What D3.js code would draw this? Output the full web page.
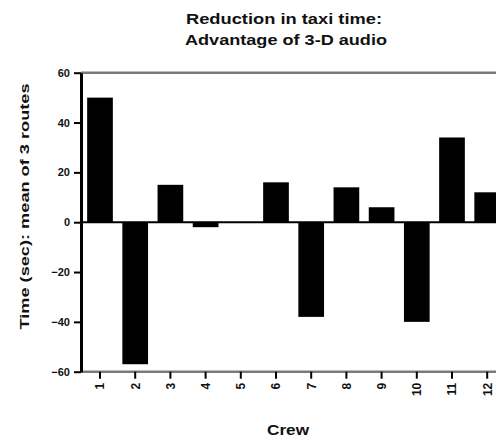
<!DOCTYPE html>
<html>
<head>
<meta charset="utf-8">
<script src="https://cdn.jsdelivr.net/npm/d3@7"></script>
<style>
  html, body { margin: 0; padding: 0; background: #fff; }
  svg { display: block; }
  text { font-family: "Liberation Sans", Arial, sans-serif; font-weight: bold; fill: #111; }
</style>
</head>
<body>
<div id="chart"></div>
<script>
const crews = ["1","2","3","4","5","6","7","8","9","10","11","12"];
const values = [50, -57, 15, -2, 0, 16, -38, 14, 6, -40, 34, 12];
const yTicks = [60, 40, 20, 0, -20, -40, -60];
const titleLines = ["Reduction in taxi time:", "Advantage of 3-D audio"];
const yTitle = "Time (sec): mean of 3 routes";
const xTitle = "Crew";

const W = 496, H = 437;
const svg = d3.select("#chart").append("svg").attr("width", W).attr("height", H);

const x = d3.scaleBand().domain(crews).range([82.4, 504.8]).paddingInner(0.27).paddingOuter(0.135);
const y = d3.scaleLinear().domain([-60, 60]).range([371.7, 72.7]);

// top frame line and bottom axis line (grey)
svg.append("line").attr("x1", 81).attr("x2", W).attr("y1", y(60)).attr("y2", y(60))
  .attr("stroke", "#7a7a7a").attr("stroke-width", 2.5);

// bars
svg.append("g").selectAll("rect").data(values).join("rect")
  .attr("x", (d, i) => x(crews[i]))
  .attr("width", x.bandwidth())
  .attr("y", d => y(Math.max(0, d)))
  .attr("height", d => Math.abs(y(d) - y(0)))
  .attr("fill", "#000");

// zero line
svg.append("line").attr("x1", 81).attr("x2", W).attr("y1", y(0)).attr("y2", y(0))
  .attr("stroke", "#000").attr("stroke-width", 2);

// bottom axis
const xAxis = svg.append("g").attr("transform", `translate(0,${y(-60)})`)
  .call(d3.axisBottom(x).tickSize(7).tickSizeOuter(0).tickPadding(4));
xAxis.select(".domain").attr("stroke", "#7a7a7a").attr("stroke-width", 2.5)
  .attr("d", `M81,0H${W}`);
xAxis.selectAll(".tick line").attr("stroke", "#000").attr("stroke-width", 2);
xAxis.selectAll(".tick text")
  .attr("transform", "rotate(-90)")
  .attr("x", -11).attr("y", 0).attr("dy", "0.36em")
  .attr("text-anchor", "end")
  .style("font-size", "12px").style("font-family", "'Liberation Sans', Arial, sans-serif")
  .style("font-weight", "bold").attr("fill", "#111");

// left axis
const yAxis = svg.append("g").attr("transform", "translate(81,0)")
  .call(d3.axisLeft(y).tickValues(yTicks).tickSize(7).tickSizeOuter(0).tickPadding(4));
yAxis.select(".domain").attr("stroke", "#000").attr("stroke-width", 3);
yAxis.selectAll(".tick line").attr("stroke", "#000").attr("stroke-width", 2);
yAxis.selectAll(".tick text")
  .style("font-size", "11px").style("font-family", "'Liberation Sans', Arial, sans-serif")
  .style("font-weight", "bold").attr("fill", "#111");

// title
svg.append("text").attr("x", 284).attr("y", 24).attr("text-anchor", "middle")
  .style("font-size", "14px").attr("textLength", 196).attr("lengthAdjust", "spacingAndGlyphs")
  .text(titleLines[0]);
svg.append("text").attr("x", 286).attr("y", 45).attr("text-anchor", "middle")
  .style("font-size", "14px").attr("textLength", 202).attr("lengthAdjust", "spacingAndGlyphs")
  .text(titleLines[1]);

// y title
svg.append("text").attr("transform", "translate(29,206.5) rotate(-90)")
  .attr("text-anchor", "middle").style("font-size", "13px")
  .attr("textLength", 246).attr("lengthAdjust", "spacingAndGlyphs")
  .text(yTitle);

// x title
svg.append("text").attr("x", 288).attr("y", 435).attr("text-anchor", "middle")
  .style("font-size", "15px").attr("textLength", 42).attr("lengthAdjust", "spacingAndGlyphs")
  .text(xTitle);
</script>
</body>
</html>
